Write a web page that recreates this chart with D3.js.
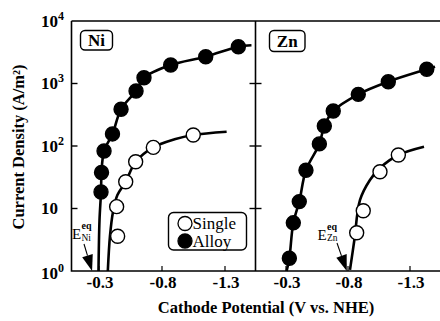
<!DOCTYPE html>
<html>
<head>
<meta charset="utf-8">
<script src="https://cdn.jsdelivr.net/npm/d3@7"></script>
<style>
  body { margin: 0; background: #fff; }
  svg { display: block; }
</style>
</head>
<body>
<div id="chart"></div>
<script>
// 데이터 (V vs. NHE, A/m2)
const panels = ['Ni', 'Zn'];
const xTicks = [-0.3, -0.8, -1.3];
const xTickLabels = ['-0.3', '-0.8', '-1.3'];
const yTicks = [1, 10, 100, 1000, 10000];
const yTickExp = ['0', '', '2', '3', '4'];
const eqPotential = [-0.245, -0.79];

// Ni - 측정점
const niSingleV = [-0.448, -0.44, -0.512, -0.591, -0.731, -1.048];
const niSingleI = [3.6, 10.7, 26.8, 56, 95, 150];
const niAlloyV = [-0.316, -0.32, -0.34, -0.407, -0.475, -0.594, -0.657, -0.869, -1.147, -1.406];
const niAlloyI = [18.4, 37.7, 83, 156, 387, 759, 1238, 1977, 2685, 3880];
// Ni - 곡선
const niSingleFitV = [-0.37, -0.387, -0.411, -0.446, -0.512, -0.591, -0.731, -0.9, -1.048, -1.313];
const niSingleFitI = [1, 3.6, 8.8, 16.4, 26.8, 56, 95, 128, 150, 169];
const niAlloyFitV = [-0.296, -0.304, -0.316, -0.32, -0.34, -0.407, -0.475, -0.594, -0.657, -0.869, -1.147, -1.406, -1.51];
const niAlloyFitI = [1, 6.5, 18.4, 37.7, 83, 156, 387, 759, 1238, 1977, 2685, 3880, 4100];

// Zn - 측정점
const znSingleV = [-0.87, -0.923, -1.058, -1.206];
const znSingleI = [4.1, 9.2, 38.8, 71.8];
const znAlloyV = [-0.327, -0.359, -0.407, -0.461, -0.569, -0.609, -0.681, -0.883, -1.125, -1.435];
const znAlloyI = [1.6, 5.9, 12.9, 41, 108, 209, 363, 671, 1069, 1687];
// Zn - 곡선
const znSingleFitV = [-0.816, -0.851, -0.897, -0.977, -1.058, -1.206, -1.413];
const znSingleFitI = [1.04, 3.1, 13.7, 28.6, 44.5, 71.8, 97.5];
const znAlloyFitV = [-0.305, -0.327, -0.359, -0.407, -0.461, -0.569, -0.609, -0.681, -0.883, -1.125, -1.435, -1.502];
const znAlloyFitI = [1, 1.6, 5.9, 12.9, 41, 108, 209, 363, 671, 1069, 1687, 1858];

const W = 440, H = 321;
const plotTop = 21, plotBottom = 271, plotLeft = 71.5, plotMid = 255.5, plotRight = 440;
const serif = "'Liberation Serif', 'Times New Roman', Times, Tinos, 'Nimbus Roman', 'Nimbus Roman No9 L', FreeSerif, 'Noto Serif', 'DejaVu Serif', serif";

const svg = d3.select('#chart').append('svg')
  .attr('width', W).attr('height', H)
  .style('font-family', serif);

const y = d3.scaleLog().domain([1, 10000]).range([plotBottom, plotTop]);
const xNi = d3.scaleLinear().domain([-0.3, -1.3]).range([99, 225]);
const xZn = d3.scaleLinear().domain([-0.3, -1.3]).range([286, 410]);
const xScales = [xNi, xZn];

const zip = (a, b) => a.map((v, i) => [v, b[i]]);

// 프레임
svg.append('path')
  .attr('d', `M${plotLeft},${plotTop}V${plotBottom}H${plotRight}M${plotLeft},${plotTop}H${plotRight}M${plotMid},${plotTop}V${plotBottom}`)
  .attr('fill', 'none').attr('stroke', '#000').attr('stroke-width', 1.6);

// y 눈금 (왼쪽 축: 안쪽, 가운데: 양쪽)
yTicks.slice(1, 4).forEach(t => {
  svg.append('line').attr('x1', plotLeft).attr('x2', plotLeft + 6)
    .attr('y1', y(t)).attr('y2', y(t)).attr('stroke', '#000').attr('stroke-width', 1.4);
  svg.append('line').attr('x1', plotMid - 6).attr('x2', plotMid + 6)
    .attr('y1', y(t)).attr('y2', y(t)).attr('stroke', '#000').attr('stroke-width', 1.4);
});

// y 레이블
yTicks.forEach((t, i) => {
  const txt = svg.append('text')
    .attr('x', 41).attr('y', y(t) + (i === 0 ? 8 : 5.5))
    .attr('font-size', 17).attr('font-weight', 'bold')
    .text('10');
  if (yTickExp[i]) {
    txt.append('tspan').attr('dy', -7).attr('font-size', 12).text(yTickExp[i]);
  }
});

// x 눈금 및 레이블
xScales.forEach(x => {
  xTicks.forEach((t, i) => {
    svg.append('line').attr('x1', x(t)).attr('x2', x(t))
      .attr('y1', plotBottom).attr('y2', plotBottom - 5)
      .attr('stroke', '#000').attr('stroke-width', 1.2);
    svg.append('text')
      .attr('x', x(t) + 1).attr('y', 288)
      .attr('text-anchor', 'middle')
      .attr('font-size', 17).attr('font-weight', 'bold')
      .text(xTickLabels[i]);
  });
});

// 축 제목
svg.append('text')
  .attr('transform', 'translate(24,147) rotate(-90)')
  .attr('text-anchor', 'middle')
  .attr('font-size', 16.5).attr('font-weight', 'bold')
  .text('Current Density (A/m²)');

svg.append('text')
  .attr('x', 266).attr('y', 313)
  .attr('text-anchor', 'middle')
  .attr('font-size', 16.5).attr('font-weight', 'bold')
  .text('Cathode Potential (V vs. NHE)');

// 곡선과 점
const curveData = [
  { x: xNi, fit: zip(niSingleFitV, niSingleFitI), pts: zip(niSingleV, niSingleI), filled: false },
  { x: xNi, fit: zip(niAlloyFitV, niAlloyFitI), pts: zip(niAlloyV, niAlloyI), filled: true },
  { x: xZn, fit: zip(znSingleFitV, znSingleFitI), pts: zip(znSingleV, znSingleI), filled: false },
  { x: xZn, fit: zip(znAlloyFitV, znAlloyFitI), pts: zip(znAlloyV, znAlloyI), filled: true }
];

curveData.forEach(c => {
  const line = d3.line()
    .x(d => c.x(d[0])).y(d => y(d[1]))
    .curve(d3.curveCatmullRom.alpha(0.5));
  svg.append('path')
    .attr('d', line(c.fit))
    .attr('fill', 'none').attr('stroke', '#000').attr('stroke-width', 2.6);
});

curveData.forEach(c => {
  svg.append('g').selectAll('circle')
    .data(c.pts).join('circle')
    .attr('cx', d => c.x(d[0])).attr('cy', d => y(d[1]))
    .attr('r', 7)
    .attr('fill', c.filled ? '#000' : '#fff')
    .attr('stroke', '#000').attr('stroke-width', 1.4);
});

// 패널 라벨
const labelBoxes = [[80.5, 30.5, 32, 19.5], [269.5, 30.5, 35.5, 21]];
panels.forEach((p, i) => {
  const b = labelBoxes[i];
  svg.append('rect')
    .attr('x', b[0]).attr('y', b[1]).attr('width', b[2]).attr('height', b[3])
    .attr('rx', 4.5).attr('fill', '#fff').attr('stroke', '#000').attr('stroke-width', 1.4);
  svg.append('text')
    .attr('x', b[0] + b[2] / 2).attr('y', b[1] + b[3] / 2 + 5.5)
    .attr('text-anchor', 'middle')
    .attr('font-size', 17).attr('font-weight', 'bold')
    .text(p);
});

// 평형 전위 화살표
const eqLabels = [
  { ex: 72, ey: 239, tail: [84, 244] },
  { ex: 317.5, ey: 239.5, tail: [337, 243] }
];
eqPotential.forEach((e, i) => {
  const x = xScales[i];
  const tip = [x(e), plotBottom];
  const L = eqLabels[i];
  const dx = tip[0] - L.tail[0], dy = tip[1] - L.tail[1];
  const len = Math.hypot(dx, dy), ux = dx / len, uy = dy / len;
  const hl = 16, hw = 5.5;
  const bx = tip[0] - ux * hl, by = tip[1] - uy * hl;
  svg.append('line')
    .attr('x1', L.tail[0]).attr('y1', L.tail[1]).attr('x2', bx).attr('y2', by)
    .attr('stroke', '#000').attr('stroke-width', 1.1);
  svg.append('path')
    .attr('d', `M${tip[0]},${tip[1]}L${bx - uy * hw},${by + ux * hw}L${bx + uy * hw},${by - ux * hw}Z`)
    .attr('fill', '#000');
  svg.append('text').attr('x', L.ex).attr('y', L.ey).attr('font-size', 15).text('E');
  svg.append('text').attr('x', L.ex + 9.5).attr('y', L.ey - 10)
    .attr('font-size', 10).attr('font-weight', 'bold').text('eq');
  svg.append('text').attr('x', L.ex + 9.5).attr('y', L.ey + 1.5)
    .attr('font-size', 9.5).text(panels[i]);
});

// 범례
const legendItems = ['Single', 'Alloy'];
svg.append('rect')
  .attr('x', 168.5).attr('y', 212.5).attr('width', 78).attr('height', 37.5)
  .attr('rx', 5).attr('fill', '#fff').attr('stroke', '#000').attr('stroke-width', 1.4);
legendItems.forEach((t, i) => {
  svg.append('circle')
    .attr('cx', 185).attr('cy', 223.5 + i * 17.5).attr('r', 7)
    .attr('fill', i ? '#000' : '#fff').attr('stroke', '#000').attr('stroke-width', 1.3);
  svg.append('text')
    .attr('x', 192.5).attr('y', 229 + i * 17.5)
    .attr('font-size', 17).text(t);
});
</script>
</body>
</html>
